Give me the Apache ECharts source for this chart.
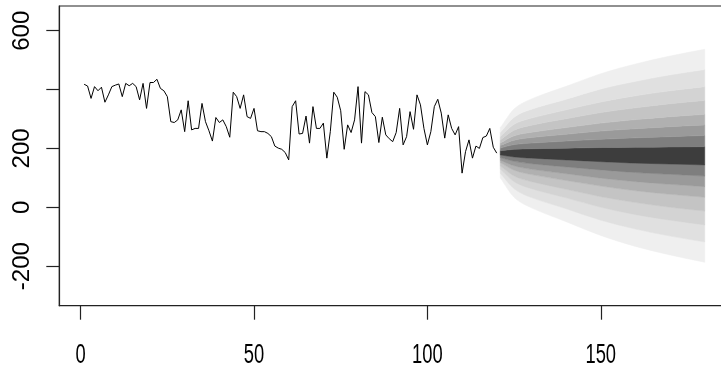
<!DOCTYPE html>
<html>
<head>
<meta charset="utf-8">
<script src="https://cdn.jsdelivr.net/npm/echarts@6/dist/echarts.min.js"></script>
<style>html,body{margin:0;padding:0;background:#fff;}#c{width:721px;height:376px;}</style>
</head>
<body>
<div id="c"></div>
<script>
// Observed series, t = 1..120
const obsValues = [418,412,370,410,396,408,357,382,410,415,419,376,421,413,421,410,365,421,336,424,
  424,435,404,396,376,291,288,297,331,257,362,263,268,268,353,291,260,225,305,288,
  297,274,238,391,376,336,382,308,302,336,260,257,257,251,240,208,201,197,186,161,
  342,362,249,251,310,218,342,268,268,286,167,257,391,374,328,197,280,254,297,410,
  218,393,382,322,308,220,306,246,233,223,254,336,212,240,325,265,382,348,268,212,
  257,342,367,320,235,314,268,246,274,116,189,229,167,208,200,237,242,268,204,184];

// Forecast fan: sampled time points and band boundaries (lowest to highest)
const fanX = [121,125,130,140,150,160,170,180];
const lo8 = [100, 34, -2, -49, -96, -133, -162, -187];
const lo7 = [116, 63, 33, -5, -44, -74, -98, -118];
const lo6 = [130, 87, 63, 32, 0, -25, -44, -60];
const lo5 = [141, 106, 87, 61, 36, 16, 0, -13];
const lo4 = [152, 126, 111, 91, 72, 56, 44, 34];
const lo3 = [160, 141, 129, 114, 99, 87, 78, 70];
const lo2 = [169, 156, 148, 137, 127, 118, 112, 106];
const lo1 = [178, 171, 167, 161, 155, 150, 147, 144];
const up1 = [192, 197, 199, 201, 203, 204, 205, 206];
const up2 = [201, 213, 218, 225, 231, 236, 240, 244];
const up3 = [210, 228, 237, 248, 259, 267, 274, 280];
const up4 = [218, 243, 255, 271, 286, 298, 308, 316];
const up5 = [229, 262, 279, 301, 322, 338, 352, 363];
const up6 = [240, 282, 303, 331, 358, 379, 396, 410];
const up7 = [254, 306, 333, 367, 402, 428, 450, 468];
const up8 = [270, 334, 368, 411, 454, 487, 514, 537];

const xTicks = [0, 50, 100, 150];
const yTicks = [-200, 0, 200, 400, 600];
const yLabels = [-200, 0, 200, 600];

const shades = ['#efefef','#e0e0e0','#d3d3d3','#c4c4c4','#b0b0b0','#9a9a9a','#7e7e7e','#3d3d3d'];

const bounds = [lo8, lo7, lo6, lo5, lo4, lo3, lo2, lo1, up1, up2, up3, up4, up5, up6, up7, up8];
const bandColors = [shades[0],shades[1],shades[2],shades[3],shades[4],shades[5],shades[6],shades[7],
                    shades[6],shades[5],shades[4],shades[3],shades[2],shades[1],shades[0]];

// cubic Hermite path through pixel points (monotone in x)
function curvePath(pts, first) {
  const n = pts.length;
  const m = [];
  for (let i = 0; i < n; i++) {
    let s;
    if (i === 0) s = (pts[1][1] - pts[0][1]) / (pts[1][0] - pts[0][0]);
    else if (i === n - 1) s = (pts[n-1][1] - pts[n-2][1]) / (pts[n-1][0] - pts[n-2][0]);
    else s = (pts[i+1][1] - pts[i-1][1]) / (pts[i+1][0] - pts[i-1][0]);
    m.push(s);
  }
  let d = (first ? 'M' : 'L') + pts[0][0].toFixed(2) + ',' + pts[0][1].toFixed(2);
  for (let i = 0; i < n - 1; i++) {
    const h = (pts[i+1][0] - pts[i][0]) / 3;
    d += 'C' + (pts[i][0] + h).toFixed(2) + ',' + (pts[i][1] + m[i] * h).toFixed(2) + ' ' +
         (pts[i+1][0] - h).toFixed(2) + ',' + (pts[i+1][1] - m[i+1] * h).toFixed(2) + ' ' +
         pts[i+1][0].toFixed(2) + ',' + pts[i+1][1].toFixed(2);
  }
  return d;
}

const bandIdx = bandColors.map((c, i) => [i]);

const series = [{
  type: 'custom', silent: true, z: 1,
  encode: { x: -1, y: -1 },
  data: bandIdx,
  renderItem: function (params, api) {
    const k = api.value(0);
    const lower = bounds[k], upper = bounds[k + 1];
    const up = fanX.map((x, i) => api.coord([x, upper[i]]));
    const lowRev = fanX.map((x, i) => api.coord([x, lower[i]])).reverse();
    const d = curvePath(up, true) + curvePath(lowRev, false) + 'Z';
    return {
      type: 'path',
      shape: { pathData: d },
      style: { fill: bandColors[k], stroke: bandColors[k], lineWidth: 0.5 }
    };
  }
}, {
  type: 'line', showSymbol: false, silent: true, z: 10,
  lineStyle: { color: '#000', width: 1 },
  data: obsValues.map((v, i) => [i + 1, v])
}];

const chart = echarts.init(document.getElementById('c'), null, { renderer: 'canvas' });
chart.setOption({
  animation: false,
  backgroundColor: '#fff',
  grid: { left: 59.3, top: 6, width: 670.3, height: 299.7, outerBoundsMode: 'none', containLabel: false,
          show: true, borderColor: '#222', borderWidth: 1.2, backgroundColor: 'transparent' },
  xAxis: {
    type: 'value', min: -6.16, max: 187.16,
    splitLine: { show: false },
    axisLine: { show: true, onZero: false, lineStyle: { color: '#222', width: 1.2 } },
    axisTick: { show: true, length: 14, customValues: xTicks, lineStyle: { color: '#222', width: 1.2 } },
    axisLabel: { show: false }
  },
  yAxis: {
    type: 'value', min: -334.5, max: 684,
    splitLine: { show: false },
    axisLine: { show: true, onZero: false, lineStyle: { color: '#222', width: 1.2 } },
    axisTick: { show: true, length: 13, customValues: yTicks, lineStyle: { color: '#222', width: 1.2 } },
    axisLabel: { customValues: yLabels, rotate: 90, margin: 25, color: '#000', fontFamily: 'Liberation Sans', fontSize: 24 }
  },
  series: series
});

// x tick labels: narrow-looking text placed through the axis scale
const labelY = chart.convertToPixel({ yAxisIndex: 0 }, -334.5) + 50;
chart.setOption({
  graphic: xTicks.map(v => ({
    type: 'text',
    x: chart.convertToPixel({ xAxisIndex: 0 }, v),
    y: labelY,
    scaleX: 0.68,
    style: { text: String(v), fill: '#000', font: '27px "Liberation Sans"', align: 'center', verticalAlign: 'middle' }
  }))
});
</script>
</body>
</html>
